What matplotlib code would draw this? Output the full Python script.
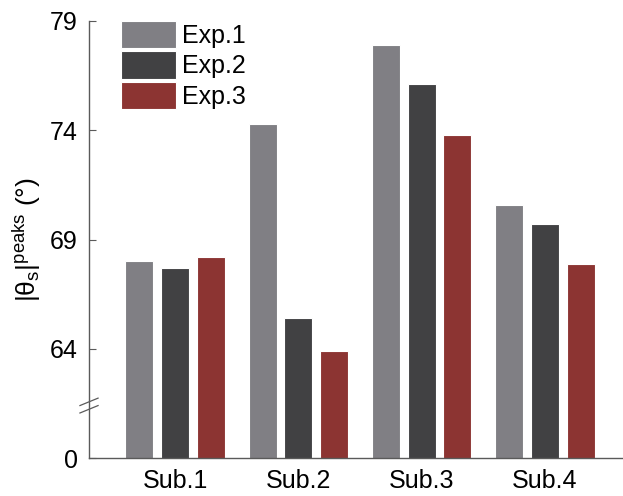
import matplotlib
matplotlib.use("Agg")
import matplotlib.pyplot as plt
import numpy as np

plt.rcParams['font.family'] = ['Liberation Sans', 'DejaVu Sans']
plt.rcParams['mathtext.fontset'] = 'custom'
plt.rcParams['mathtext.rm'] = 'Liberation Sans'
plt.rcParams['mathtext.it'] = 'Liberation Sans'

subjects = ["Sub.1", "Sub.2", "Sub.3", "Sub.4"]
exps = ["Exp.1", "Exp.2", "Exp.3"]
exp1 = [68.0, 74.3, 77.9, 70.6]
exp2 = [67.7, 65.4, 76.1, 69.7]
exp3 = [68.2, 63.9, 73.8, 67.9]
colors = ["#807f84", "#414143", "#8c3432"]

# axis is broken: the bottom tick stands for 0
base = 59
yticks = [59, 64, 69, 74, 79]
ylabels = ["0", "64", "69", "74", "79"]

fig = plt.figure(figsize=(6.23, 4.96), dpi=100)
ax = fig.add_axes([89/623, 38/496, 533/623, 437/496])

x = np.arange(1, len(subjects) + 1)
w = 0.227
off = 0.289
for i, vals in enumerate([exp1, exp2, exp3]):
    ax.bar(x + (i - 1) * off, vals, width=w, color=colors[i],
           edgecolor="white", linewidth=0.8, label=exps[i], zorder=2)

ax.set_xlim(0.3025, 4.624)
ax.set_ylim(base, 79)
ax.set_yticks(yticks)
ax.set_yticklabels(ylabels)
ax.set_xticks(x)
ax.set_xticklabels(subjects)

for s in ["top", "right"]:
    ax.spines[s].set_visible(False)
for s in ["left", "bottom"]:
    ax.spines[s].set_color("#5a5a5a")
    ax.spines[s].set_linewidth(1.0)
    ax.spines[s].set_zorder(3)

ax.tick_params(axis="y", direction="in", length=5, width=0.8, color="#5a5a5a",
               labelsize=18, pad=8)
ax.tick_params(axis="x", length=0, labelsize=18, pad=8)

ax.set_ylabel(r"$|\mathrm{θ}_\mathrm{s}|^\mathrm{peaks}$ (°)", fontsize=19, labelpad=5)

# break marks on the y axis
yb = 61.4
for dy in [0.17, -0.17]:
    ax.plot([-0.017, 0.017], [yb + dy - 0.17, yb + dy + 0.17], color="#5a5a5a",
            linewidth=0.9, transform=ax.get_yaxis_transform(), clip_on=False, zorder=4)

ax.legend(loc="upper left", bbox_to_anchor=(32/533, 1.0), frameon=False,
          fontsize=18, borderpad=0, borderaxespad=0, handlelength=2.2,
          handleheight=1.3, labelspacing=0.13, handletextpad=0.25)

fig.savefig("out.png", dpi=100)
